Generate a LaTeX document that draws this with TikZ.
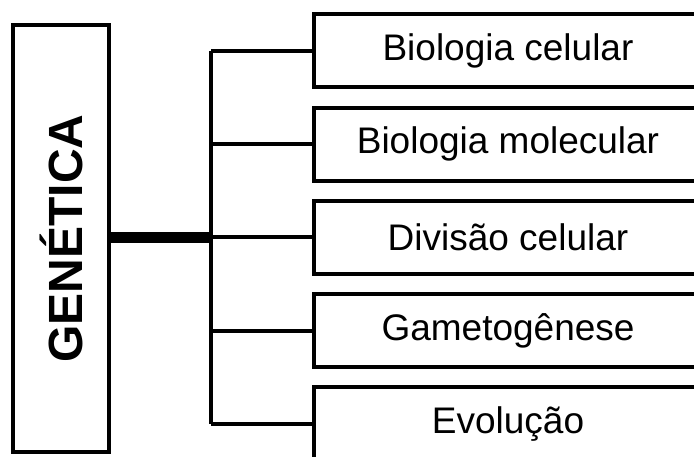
\documentclass[tikz,border=0pt]{standalone}
\usepackage{fontspec}
\setmainfont{Liberation Sans}
\usetikzlibrary{positioning}

\tikzset{root node/.style={draw,line width=4pt,minimum width=96pt,minimum height=427pt,inner sep=0pt,font=\fontsize{48}{56}\selectfont\bfseries}}
\tikzset{topic node/.style={draw,line width=4pt,minimum width=388pt,minimum height=73pt,inner sep=0pt,font=\fontsize{37}{44}\selectfont}}
\tikzset{branch/.style={line width=4pt}}
\tikzset{trunk/.style={line width=11pt}}

\begin{document}
\begin{tikzpicture}[x=1pt,y=1pt]
\useasboundingbox (0,0) rectangle (694,457);

\node[root node](gen) at (61,218.5){\rotatebox{90}{GENÉTICA}};

\node[topic node](cel) at (508,406){Biologia celular};
\node[topic node](mol) at (508,312.75){Biologia molecular};
\node[topic node](div) at (508,219.5){Divisão celular};
\node[topic node](gam) at (508,126.25){Gametogênese};
\node[topic node](evo) at (508,33){Evolução};

\coordinate(hub) at (211,219.5);

% thick stem into the bus
\draw[trunk] (gen.east |- hub) -- (hub);

% bus and branches
\draw[branch] (hub |- cel.west) -- (hub |- evo.west);
\draw[branch] (hub |- cel.west) -- (cel.west);
\draw[branch] (hub |- mol.west) -- (mol.west);
\draw[branch] (hub |- div.west) -- (div.west);
\draw[branch] (hub |- gam.west) -- (gam.west);
\draw[branch] (hub |- evo.west) -- (evo.west);
\end{tikzpicture}
\end{document}
